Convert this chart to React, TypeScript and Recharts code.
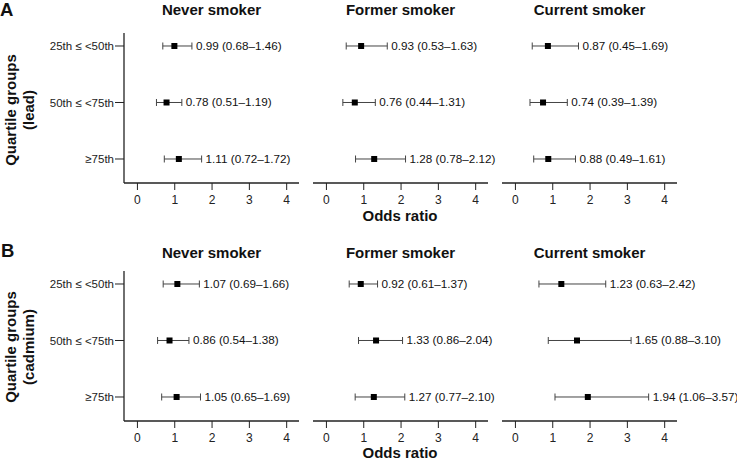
import React from 'react';
import { ScatterChart, Scatter, XAxis, YAxis, ErrorBar } from 'recharts';

const groups = ['25th \u2264 <50th', '50th \u2264 <75th', '\u226575th'];
const smokers = ['Never smoker', 'Former smoker', 'Current smoker'];

// odds ratio, lower CI, upper CI per smoker status (rows follow groups)
const leadOR = [[0.99, 0.78, 1.11], [0.93, 0.76, 1.28], [0.87, 0.74, 0.88]];
const leadLow = [[0.68, 0.51, 0.72], [0.53, 0.44, 0.78], [0.45, 0.39, 0.49]];
const leadHigh = [[1.46, 1.19, 1.72], [1.63, 1.31, 2.12], [1.69, 1.39, 1.61]];

const cadOR = [[1.07, 0.86, 1.05], [0.92, 1.33, 1.27], [1.23, 1.65, 1.94]];
const cadLow = [[0.69, 0.54, 0.65], [0.61, 0.86, 0.77], [0.63, 0.88, 1.06]];
const cadHigh = [[1.66, 1.38, 1.69], [1.37, 2.04, 2.10], [2.42, 3.10, 3.57]];

const xTicks = [0, 1, 2, 3, 4];

const FONT = '"Liberation Sans", Arial, sans-serif';
const COL_LEFT = [124, 313, 502];
const PLOT_W = 175;
const PLOT_H = 150;
const TOP = 33;
const PANEL_OFFSET = [0, 238];

const fmt = (v: number) => v.toFixed(2);

const buildRows = (or: number[], lo: number[], hi: number[]) =>
  or.map((v, i) => ({
    x: v,
    y: i + 1,
    err: [v - lo[i], hi[i] - v],
    hi: hi[i],
    text: `${fmt(v)} (${fmt(lo[i])}\u2013${fmt(hi[i])})`,
  }));

const Square = (props: any) => {
  const { cx, cy } = props;
  return <rect x={cx - 3} y={cy - 3} width={6} height={6} fill="#000" />;
};

const LabelText = (props: any) => {
  const { cx, cy, payload } = props;
  return (
    <text x={cx + 4} y={cy + 4} fontSize={11.7} fontFamily={FONT} fill="#111">
      {payload.text}
    </text>
  );
};

interface PanelProps {
  col: number;
  top: number;
  or: number[];
  lo: number[];
  hi: number[];
}

function Panel({ col, top, or, lo, hi }: PanelProps) {
  const rows = buildRows(or, lo, hi);
  const labels = rows.map((r) => ({ x: r.hi, y: r.y, text: r.text }));
  const first = col === 0;
  const leftPad = first ? 0 : 10;
  const yWidth = first ? COL_LEFT[0] : 0;
  const chartLeft = first ? 0 : COL_LEFT[col] - leftPad;
  const width = first ? COL_LEFT[0] + PLOT_W + 60 : leftPad + PLOT_W + 60;
  return (
    <div style={{ position: 'absolute', left: chartLeft, top }}>
      <ScatterChart
        width={width}
        height={TOP + PLOT_H + 40}
        margin={{ top: TOP, right: 60, left: leftPad, bottom: 0 }}
        style={{ overflow: 'visible' }}
      >
        <XAxis
          type="number"
          dataKey="x"
          domain={[-0.36, 4.33]}
          ticks={xTicks}
          height={40}
          tickSize={7}
          tickMargin={5}
          axisLine={{ stroke: '#222', strokeWidth: 1.3 }}
          tickLine={{ stroke: '#222' }}
          tick={{ fontSize: 12, fill: '#222', fontFamily: FONT }}
        />
        <YAxis
          type="number"
          dataKey="y"
          domain={[0.77, 3.425]}
          reversed
          ticks={[1, 2, 3]}
          tickFormatter={(v: number) => groups[v - 1]}
          hide={!first}
          width={yWidth}
          tickSize={9}
          tickMargin={1}
          axisLine={{ stroke: '#222', strokeWidth: 1.3 }}
          tickLine={{ stroke: '#222' }}
          tick={{ fontSize: 11.5, fill: '#222', fontFamily: FONT }}
        />
        <Scatter data={rows} shape={<Square />} isAnimationActive={false}>
          <ErrorBar dataKey="err" direction="x" width={3.5} stroke="#444" strokeWidth={1} />
        </Scatter>
        <Scatter data={labels} shape={<LabelText />} isAnimationActive={false} />
      </ScatterChart>
    </div>
  );
}

const panelsA = [0, 1, 2].map((c) => ({ or: leadOR[c], lo: leadLow[c], hi: leadHigh[c] }));
const panelsB = [0, 1, 2].map((c) => ({ or: cadOR[c], lo: cadLow[c], hi: cadHigh[c] }));

export default function App() {
  const bold = { fontFamily: FONT, fontWeight: 'bold' as const, fill: '#111' };
  return (
    <div style={{ position: 'absolute', left: 0, top: 0, width: 737, height: 460, background: '#fff', overflow: 'hidden' }}>
      {panelsA.map((p, c) => (
        <Panel key={`a${c}`} col={c} top={PANEL_OFFSET[0]} {...p} />
      ))}
      {panelsB.map((p, c) => (
        <Panel key={`b${c}`} col={c} top={PANEL_OFFSET[1]} {...p} />
      ))}
      <svg width={737} height={460} style={{ position: 'absolute', left: 0, top: 0, pointerEvents: 'none' }}>
        <text x={0} y={16} fontSize={18.5} {...bold}>A</text>
        <text x={1} y={257} fontSize={18.5} {...bold}>B</text>
        {PANEL_OFFSET.map((off, k) => (
          <g key={k}>
            {smokers.map((s, c) => (
              <text key={s} x={COL_LEFT[c] + PLOT_W / 2} y={k ? 258 : 15} fontSize={15} textAnchor="middle" {...bold}>
                {s}
              </text>
            ))}
            <text x={400} y={k ? 458 : 221} fontSize={15} textAnchor="middle" {...bold}>Odds ratio</text>
            <text
              transform={`translate(16, ${k ? 347 : 110}) rotate(-90)`}
              fontSize={15}
              textAnchor="middle"
              {...bold}
            >
              Quartile groups
            </text>
            <text
              transform={`translate(34, ${k ? 347 : 110}) rotate(-90)`}
              fontSize={15}
              textAnchor="middle"
              {...bold}
            >
              {k ? '(cadmium)' : '(lead)'}
            </text>
          </g>
        ))}
      </svg>
    </div>
  );
}
